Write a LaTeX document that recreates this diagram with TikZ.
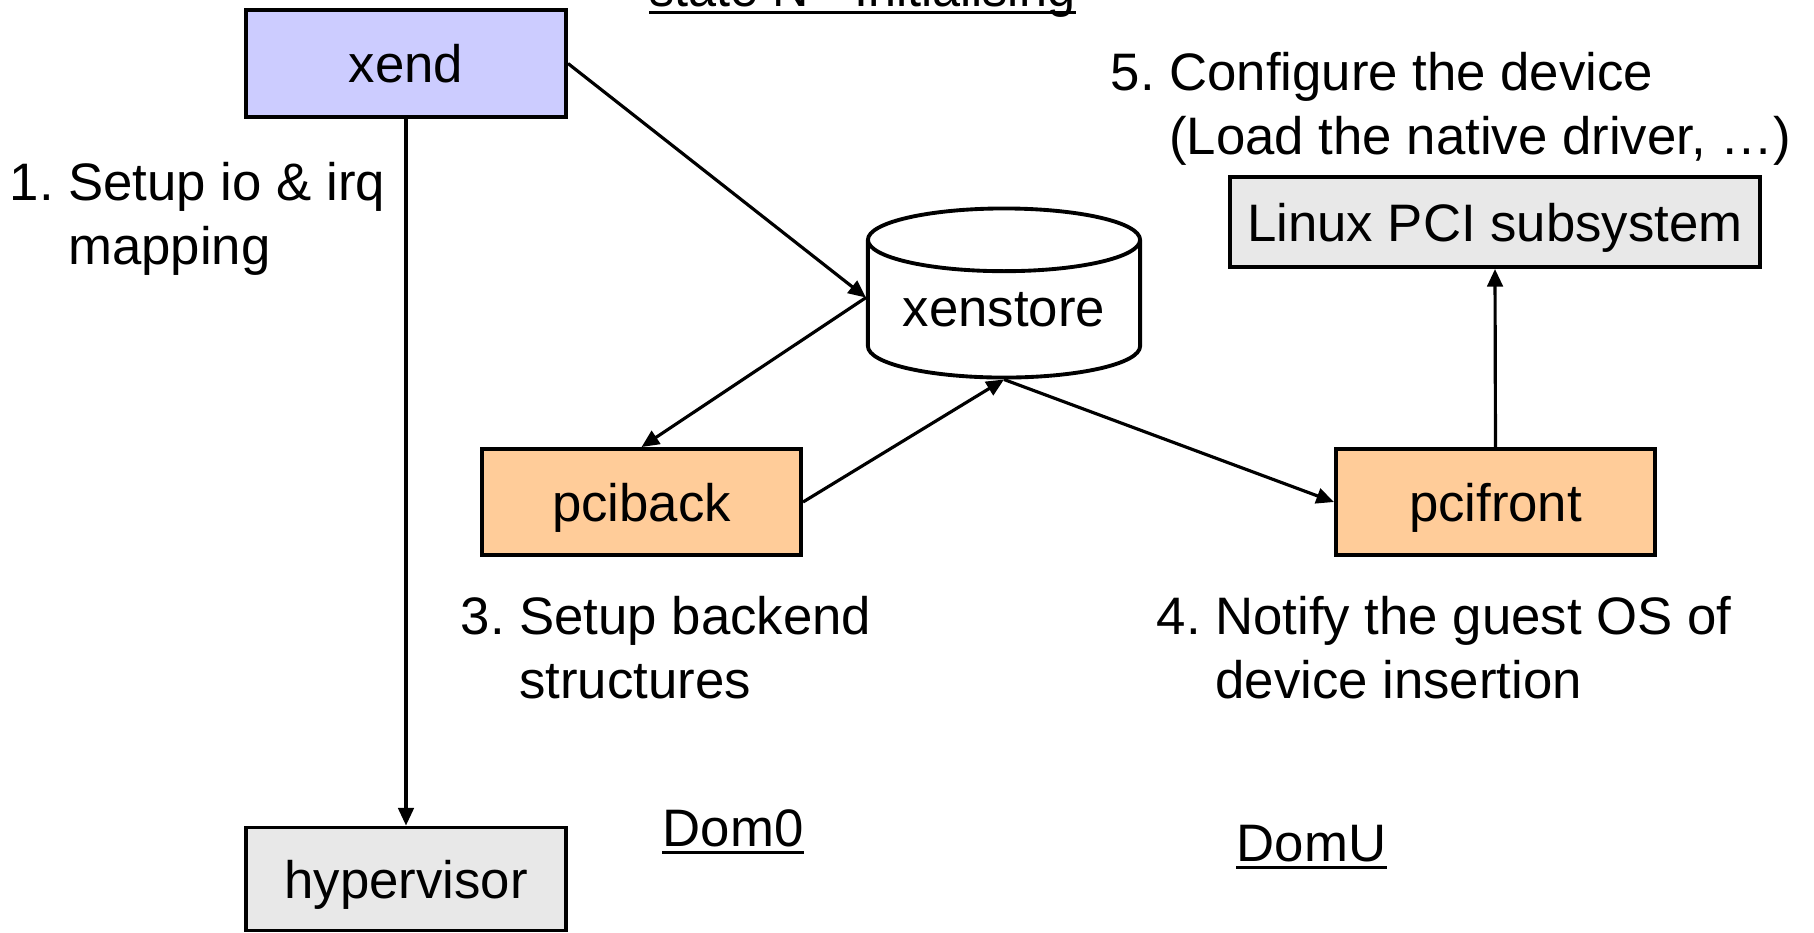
\documentclass[tikz,border=0pt]{standalone}
\usepackage{fontspec}
\setmainfont{Liberation Sans}
\usetikzlibrary{shapes.geometric,arrows.meta}
\definecolor{xendblue}{HTML}{CCCCFF}
\definecolor{drvorange}{HTML}{FFCC99}
\definecolor{sysgray}{HTML}{E8E8E8}
\newcommand{\steptext}[3]{\begin{tabular}[t]{@{}l@{\ }l@{}}#1 & #2\\ & #3\end{tabular}}

\begin{document}
\begin{tikzpicture}[x=0.01cm,y=-0.01cm,
    font=\fontsize{15}{18.2}\selectfont,
    box/.style={draw,line width=1.1pt,inner sep=0pt,text height=12pt,text depth=1.2pt},
    arr/.style={-{Triangle[length=5pt,width=4.4pt]},line width=0.9pt},
    lbl/.style={inner sep=0pt,anchor=base west}]
    \useasboundingbox (0,0) rectangle (1814,932);

    % Dom0 side
    \node[box,fill=xendblue,minimum width=3.2cm,minimum height=1.07cm] (xend) at (406,63.5) {xend};
    \node[box,fill=sysgray,minimum width=3.2cm,minimum height=1.03cm] (hyper) at (406,879) {hypervisor};
    \node[box,fill=drvorange,minimum width=3.19cm,minimum height=1.06cm] (pciback) at (641.5,502) {pciback};

    % shared store
    \node[draw,cylinder,shape border rotate=90,aspect=0.31,line width=1.1pt,inner sep=0pt,
          minimum width=2.72cm,minimum height=1.69cm,anchor=shape center] (xenstore) at (1004,293) {xenstore};

    % DomU side
    \node[box,fill=drvorange,minimum width=3.19cm,minimum height=1.06cm] (pcifront) at (1495.5,502) {pcifront};
    \node[box,fill=sysgray,minimum width=5.3cm,minimum height=0.9cm] (linux) at (1495,222) {Linux PCI subsystem};

    % connectors
    \draw[arr] (xend.east) -- (xenstore.175);
    \draw[arr] (xenstore.175) -- (pciback.north);
    \draw[arr] (pciback.east) -- (xenstore.south);
    \draw[arr] (xenstore.south) -- (pcifront.west);
    \draw[arr] (pcifront.north) -- (linux.south);
    \draw[arr] (xend.south) -- (hyper.north);

    % step notes
    \node[lbl] (step1) at (9,200) {\steptext{1.}{Setup io \& irq}{mapping}};
    \node[lbl] (step3) at (460,634) {\steptext{3.}{Setup backend}{structures}};
    \node[lbl] (step4) at (1156,634) {\steptext{4.}{Notify the guest OS of}{device insertion}};
    \node[lbl] (step5) at (1110,90) {\steptext{5.}{Configure the device}{(Load the native driver, …)}};

    % domain titles
    \node[lbl] (state) at (649,6) {\scalebox{0.955}[1]{state N - Initialising}};
    \node[lbl] (dom0) at (662,846) {Dom0};
    \node[lbl] (domu) at (1236,861) {DomU};
    \foreach \n in {state,dom0,domu}
        \draw[line width=0.8pt] ([yshift=-1.8pt]\n.base west) -- ([yshift=-1.8pt]\n.base east);
\end{tikzpicture}
\end{document}
